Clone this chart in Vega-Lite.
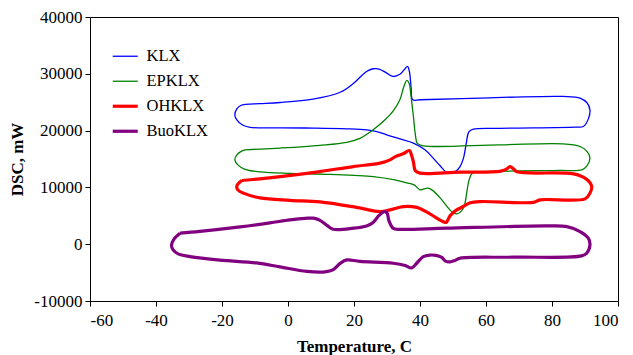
{
"$schema":"https://vega.github.io/schema/vega-lite/v6.json",
"autosize":"none",
"width":528,"height":284,
"padding":{"left":90,"top":17,"right":15,"bottom":54},
"background":"white",
"config":{
 "font":"Liberation Serif",
 "view":{"stroke":"black","strokeWidth":1},
 "axis":{"labelFont":"Liberation Serif","labelFontSize":17,"labelColor":"black","titleFont":"Liberation Serif","titleFontSize":17,"titleFontWeight":"bold","titleColor":"black","domainColor":"black","tickColor":"black","tickSize":5,"grid":false,"labelPadding":3},
 "legend":{"labelFont":"Liberation Serif","labelFontSize":16.5,"labelColor":"black"}
},
"data":{"values":[
{"s":"KLX","i":1,"t":-13.0,"v":24630},{"s":"KLX","i":2,"t":-8.5,"v":24760},{"s":"KLX","i":3,"t":-2.4,"v":24950},{"s":"KLX","i":4,"t":7.6,"v":25550},{"s":"KLX","i":5,"t":15.8,"v":26750},{"s":"KLX","i":6,"t":19.7,"v":28240},{"s":"KLX","i":7,"t":23.8,"v":30410},{"s":"KLX","i":8,"t":25.8,"v":30890},{"s":"KLX","i":9,"t":27.6,"v":30840},{"s":"KLX","i":10,"t":29.9,"v":30130},{"s":"KLX","i":11,"t":31.8,"v":29530},{"s":"KLX","i":12,"t":33.9,"v":29920},{"s":"KLX","i":13,"t":35.2,"v":30710},{"s":"KLX","i":14,"t":36.2,"v":31290},{"s":"KLX","i":15,"t":36.8,"v":30360},{"s":"KLX","i":16,"t":37.3,"v":27540},{"s":"KLX","i":17,"t":37.8,"v":25430},{"s":"KLX","i":18,"t":40.0,"v":25430},{"s":"KLX","i":19,"t":58.2,"v":25730},{"s":"KLX","i":20,"t":83.3,"v":26010},{"s":"KLX","i":21,"t":88.5,"v":25730},{"s":"KLX","i":22,"t":90.6,"v":24900},{"s":"KLX","i":23,"t":91.5,"v":23660},{"s":"KLX","i":24,"t":91.1,"v":22200},{"s":"KLX","i":25,"t":89.5,"v":20720},{"s":"KLX","i":26,"t":87.0,"v":20620},{"s":"KLX","i":27,"t":64.2,"v":20400},{"s":"KLX","i":28,"t":56.2,"v":20260},{"s":"KLX","i":29,"t":54.8,"v":19790},{"s":"KLX","i":30,"t":54.1,"v":18030},{"s":"KLX","i":31,"t":53.2,"v":15210},{"s":"KLX","i":32,"t":52.1,"v":13620},{"s":"KLX","i":33,"t":50.6,"v":12740},{"s":"KLX","i":34,"t":49.1,"v":12560},{"s":"KLX","i":35,"t":48.1,"v":12620},{"s":"KLX","i":36,"t":46.1,"v":13800},{"s":"KLX","i":37,"t":44.0,"v":15150},{"s":"KLX","i":38,"t":41.5,"v":16620},{"s":"KLX","i":39,"t":38.0,"v":17800},{"s":"KLX","i":40,"t":33.9,"v":18550},{"s":"KLX","i":41,"t":29.9,"v":19260},{"s":"KLX","i":42,"t":26.9,"v":19840},{"s":"KLX","i":43,"t":23.8,"v":20140},{"s":"KLX","i":44,"t":17.8,"v":20320},{"s":"KLX","i":45,"t":7.6,"v":20440},{"s":"KLX","i":46,"t":-2.4,"v":20490},{"s":"KLX","i":47,"t":-11.5,"v":20580},{"s":"KLX","i":48,"t":-13.9,"v":21020},{"s":"KLX","i":49,"t":-15.5,"v":21900},{"s":"KLX","i":50,"t":-16.1,"v":22660},{"s":"KLX","i":51,"t":-15.5,"v":23840},{"s":"KLX","i":52,"t":-14.2,"v":24460},{"s":"KLX","i":53,"t":-13.0,"v":24630},
{"s":"EPKLX","i":1,"t":-13.0,"v":16620},{"s":"EPKLX","i":2,"t":-2.4,"v":16930},{"s":"EPKLX","i":3,"t":9.7,"v":17410},{"s":"EPKLX","i":4,"t":17.8,"v":17940},{"s":"EPKLX","i":5,"t":21.8,"v":18640},{"s":"EPKLX","i":6,"t":25.8,"v":20140},{"s":"EPKLX","i":7,"t":29.4,"v":21900},{"s":"EPKLX","i":8,"t":31.9,"v":23490},{"s":"EPKLX","i":9,"t":33.9,"v":25430},{"s":"EPKLX","i":10,"t":35.0,"v":27540},{"s":"EPKLX","i":11,"t":36.0,"v":28830},{"s":"EPKLX","i":12,"t":36.7,"v":28330},{"s":"EPKLX","i":13,"t":37.3,"v":25950},{"s":"EPKLX","i":14,"t":38.0,"v":22480},{"s":"EPKLX","i":15,"t":38.6,"v":19260},{"s":"EPKLX","i":16,"t":39.2,"v":17760},{"s":"EPKLX","i":17,"t":41.0,"v":17320},{"s":"EPKLX","i":18,"t":64.2,"v":17500},{"s":"EPKLX","i":19,"t":83.4,"v":17670},{"s":"EPKLX","i":20,"t":88.5,"v":17200},{"s":"EPKLX","i":21,"t":90.6,"v":16350},{"s":"EPKLX","i":22,"t":91.5,"v":15150},{"s":"EPKLX","i":23,"t":90.6,"v":13800},{"s":"EPKLX","i":24,"t":89.0,"v":13090},{"s":"EPKLX","i":25,"t":82.4,"v":13000},{"s":"EPKLX","i":26,"t":64.2,"v":12830},{"s":"EPKLX","i":27,"t":56.7,"v":12650},{"s":"EPKLX","i":28,"t":55.7,"v":12390},{"s":"EPKLX","i":29,"t":54.8,"v":11150},{"s":"EPKLX","i":30,"t":54.2,"v":9220},{"s":"EPKLX","i":31,"t":53.5,"v":6920},{"s":"EPKLX","i":32,"t":52.6,"v":5870},{"s":"EPKLX","i":33,"t":51.2,"v":5340},{"s":"EPKLX","i":34,"t":50.0,"v":5520},{"s":"EPKLX","i":35,"t":48.8,"v":6220},{"s":"EPKLX","i":36,"t":46.1,"v":8160},{"s":"EPKLX","i":37,"t":43.6,"v":9570},{"s":"EPKLX","i":38,"t":42.4,"v":9870},{"s":"EPKLX","i":39,"t":41.2,"v":9740},{"s":"EPKLX","i":40,"t":40.0,"v":9570},{"s":"EPKLX","i":41,"t":38.2,"v":10450},{"s":"EPKLX","i":42,"t":36.0,"v":10800},{"s":"EPKLX","i":43,"t":32.4,"v":11330},{"s":"EPKLX","i":44,"t":25.8,"v":11910},{"s":"EPKLX","i":45,"t":12.7,"v":12300},{"s":"EPKLX","i":46,"t":0.6,"v":12470},{"s":"EPKLX","i":47,"t":-8.5,"v":12740},{"s":"EPKLX","i":48,"t":-13.0,"v":13180},{"s":"EPKLX","i":49,"t":-15.2,"v":13970},{"s":"EPKLX","i":50,"t":-16.1,"v":14850},{"s":"EPKLX","i":51,"t":-15.5,"v":15730},{"s":"EPKLX","i":52,"t":-14.2,"v":16350},{"s":"EPKLX","i":53,"t":-13.0,"v":16620},
{"s":"OHKLX","i":1,"t":-14.0,"v":11210},{"s":"OHKLX","i":2,"t":-8.5,"v":11510},{"s":"OHKLX","i":3,"t":-0.4,"v":12030},{"s":"OHKLX","i":4,"t":9.7,"v":12790},{"s":"OHKLX","i":5,"t":19.8,"v":13670},{"s":"OHKLX","i":6,"t":27.9,"v":14270},{"s":"OHKLX","i":7,"t":30.9,"v":14850},{"s":"OHKLX","i":8,"t":32.7,"v":15470},{"s":"OHKLX","i":9,"t":34.9,"v":15910},{"s":"OHKLX","i":10,"t":36.8,"v":16490},{"s":"OHKLX","i":11,"t":37.4,"v":15730},{"s":"OHKLX","i":12,"t":38.0,"v":14500},{"s":"OHKLX","i":13,"t":38.6,"v":12920},{"s":"OHKLX","i":14,"t":40.0,"v":12510},{"s":"OHKLX","i":15,"t":52.1,"v":12690},{"s":"OHKLX","i":16,"t":64.2,"v":12830},{"s":"OHKLX","i":17,"t":66.1,"v":13180},{"s":"OHKLX","i":18,"t":67.3,"v":13670},{"s":"OHKLX","i":19,"t":68.3,"v":13270},{"s":"OHKLX","i":20,"t":69.4,"v":12740},{"s":"OHKLX","i":21,"t":86.5,"v":12390},{"s":"OHKLX","i":22,"t":90.0,"v":11630},{"s":"OHKLX","i":23,"t":92.0,"v":10270},{"s":"OHKLX","i":24,"t":91.5,"v":8990},{"s":"OHKLX","i":25,"t":90.0,"v":7980},{"s":"OHKLX","i":26,"t":76.4,"v":7810},{"s":"OHKLX","i":27,"t":74.3,"v":7370},{"s":"OHKLX","i":28,"t":58.2,"v":7510},{"s":"OHKLX","i":29,"t":55.2,"v":7280},{"s":"OHKLX","i":30,"t":53.1,"v":6630},{"s":"OHKLX","i":31,"t":51.1,"v":6040},{"s":"OHKLX","i":32,"t":49.1,"v":4990},{"s":"OHKLX","i":33,"t":47.9,"v":3840},{"s":"OHKLX","i":34,"t":46.5,"v":4110},{"s":"OHKLX","i":35,"t":43.0,"v":5340},{"s":"OHKLX","i":36,"t":39.0,"v":6480},{"s":"OHKLX","i":37,"t":34.9,"v":6630},{"s":"OHKLX","i":38,"t":30.9,"v":6040},{"s":"OHKLX","i":39,"t":27.9,"v":5740},{"s":"OHKLX","i":40,"t":20.8,"v":6480},{"s":"OHKLX","i":41,"t":9.7,"v":7450},{"s":"OHKLX","i":42,"t":0.6,"v":7720},{"s":"OHKLX","i":43,"t":-8.5,"v":8160},{"s":"OHKLX","i":44,"t":-13.5,"v":8990},{"s":"OHKLX","i":45,"t":-15.2,"v":9570},{"s":"OHKLX","i":46,"t":-15.5,"v":10270},{"s":"OHKLX","i":47,"t":-14.0,"v":11210},
{"s":"BuoKLX","i":1,"t":-32.7,"v":1940},{"s":"BuoKLX","i":2,"t":-26.7,"v":2260},{"s":"BuoKLX","i":3,"t":-14.5,"v":3050},{"s":"BuoKLX","i":4,"t":-5.5,"v":3750},{"s":"BuoKLX","i":5,"t":0.6,"v":4280},{"s":"BuoKLX","i":6,"t":5.2,"v":4550},{"s":"BuoKLX","i":7,"t":7.7,"v":4580},{"s":"BuoKLX","i":8,"t":9.7,"v":4190},{"s":"BuoKLX","i":9,"t":11.8,"v":3310},{"s":"BuoKLX","i":10,"t":13.7,"v":2640},{"s":"BuoKLX","i":11,"t":19.8,"v":2820},{"s":"BuoKLX","i":12,"t":23.8,"v":3220},{"s":"BuoKLX","i":13,"t":25.8,"v":3840},{"s":"BuoKLX","i":14,"t":27.6,"v":5070},{"s":"BuoKLX","i":15,"t":29.1,"v":5740},{"s":"BuoKLX","i":16,"t":30.0,"v":5520},{"s":"BuoKLX","i":17,"t":30.6,"v":4110},{"s":"BuoKLX","i":18,"t":31.9,"v":2780},{"s":"BuoKLX","i":19,"t":33.9,"v":2610},{"s":"BuoKLX","i":20,"t":48.1,"v":2820},{"s":"BuoKLX","i":21,"t":78.4,"v":3220},{"s":"BuoKLX","i":22,"t":84.5,"v":3100},{"s":"BuoKLX","i":23,"t":88.5,"v":2220},{"s":"BuoKLX","i":24,"t":91.0,"v":1060},{"s":"BuoKLX","i":25,"t":91.5,"v":-120},{"s":"BuoKLX","i":26,"t":90.5,"v":-1590},{"s":"BuoKLX","i":27,"t":89.0,"v":-2060},{"s":"BuoKLX","i":28,"t":68.3,"v":-2290},{"s":"BuoKLX","i":29,"t":52.1,"v":-2470},{"s":"BuoKLX","i":30,"t":50.6,"v":-2850},{"s":"BuoKLX","i":31,"t":49.1,"v":-3120},{"s":"BuoKLX","i":32,"t":47.6,"v":-2940},{"s":"BuoKLX","i":33,"t":46.6,"v":-2330},{"s":"BuoKLX","i":34,"t":44.8,"v":-1970},{"s":"BuoKLX","i":35,"t":43.0,"v":-1920},{"s":"BuoKLX","i":36,"t":41.0,"v":-2200},{"s":"BuoKLX","i":37,"t":39.0,"v":-3350},{"s":"BuoKLX","i":38,"t":37.5,"v":-4180},{"s":"BuoKLX","i":39,"t":35.5,"v":-3740},{"s":"BuoKLX","i":40,"t":31.9,"v":-3350},{"s":"BuoKLX","i":41,"t":21.8,"v":-3030},{"s":"BuoKLX","i":42,"t":17.8,"v":-2770},{"s":"BuoKLX","i":43,"t":15.8,"v":-3380},{"s":"BuoKLX","i":44,"t":13.6,"v":-4530},{"s":"BuoKLX","i":45,"t":11.2,"v":-4880},{"s":"BuoKLX","i":46,"t":5.7,"v":-4790},{"s":"BuoKLX","i":47,"t":-2.4,"v":-4000},{"s":"BuoKLX","i":48,"t":-9.5,"v":-3300},{"s":"BuoKLX","i":49,"t":-20.6,"v":-2800},{"s":"BuoKLX","i":50,"t":-29.7,"v":-2180},{"s":"BuoKLX","i":51,"t":-33.3,"v":-1710},{"s":"BuoKLX","i":52,"t":-34.8,"v":-1000},{"s":"BuoKLX","i":53,"t":-35.3,"v":-210},{"s":"BuoKLX","i":54,"t":-34.5,"v":930},{"s":"BuoKLX","i":55,"t":-32.7,"v":1940}
]},
"mark":{"type":"line","interpolate":"catmull-rom","clip":true},
"encoding":{
 "x":{"field":"t","type":"quantitative","scale":{"domain":[-60,100],"nice":false,"zero":false},"axis":{"values":[-60,-40,-20,0,20,40,60,80,100],"labelExpr":"datum.value < 0 ? '-' + format(-datum.value,'d') : format(datum.value,'d')","labelFont":"Liberation Serif","labelPadding":6,"title":"Temperature, C","titleY":45,"titleBaseline":"middle"}},
 "y":{"field":"v","type":"quantitative","scale":{"domain":[-10000,40000],"nice":false,"zero":false},"axis":{"values":[-10000,0,10000,20000,30000,40000],"labelExpr":"datum.value < 0 ? '-' + format(-datum.value,'d') : format(datum.value,'d')","labelFont":"Liberation Serif","title":"DSC, mW","titleX":-73,"titleY":142,"titleBaseline":"middle","titleAlign":"center","titleAngle":-90}},
 "order":{"field":"i","type":"quantitative"},
 "strokeWidth":{"condition":{"test":"datum.s === 'OHKLX' || datum.s === 'BuoKLX'","value":3.2},"value":1.3},
 "color":{"field":"s","type":"nominal","scale":{"domain":["KLX","EPKLX","OHKLX","BuoKLX"],"range":["#0000ff","#008000","#ff0000","#800080"]},"legend":{"orient":"none","legendX":27,"legendY":31,"title":null,"symbolType":"stroke","symbolSize":625,"rowPadding":8,"labelOffset":13,"padding":0,"labelFont":"Liberation Serif","labelFontSize":16.5,"encode":{"symbols":{"update":{"strokeWidth":{"signal":"datum.label === 'OHKLX' || datum.label === 'BuoKLX' ? 3.2 : 1.3"}}}}}}
}
}
